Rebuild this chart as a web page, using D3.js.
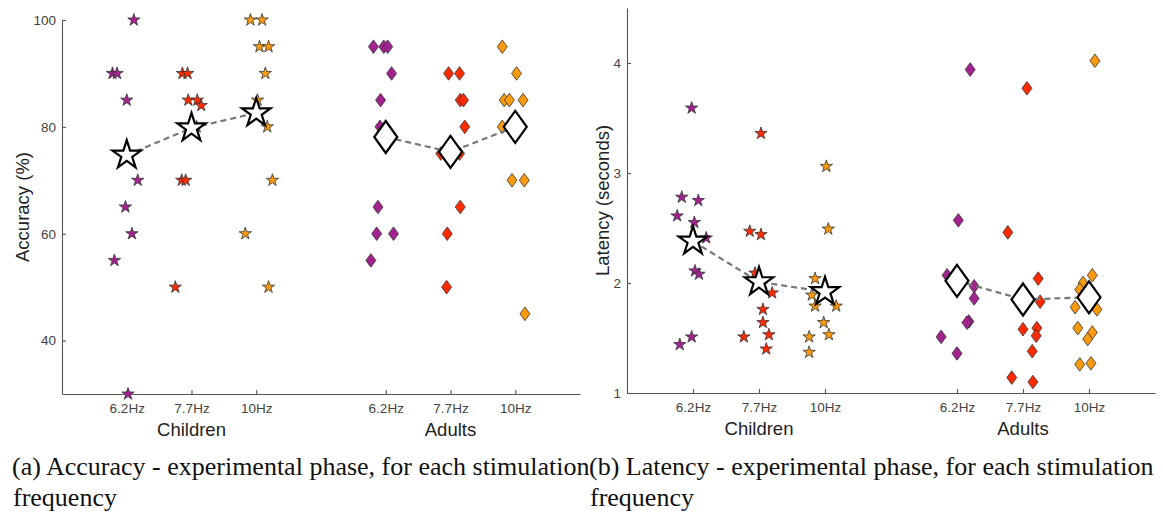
<!DOCTYPE html>
<html>
<head>
<meta charset="utf-8">
<script src="https://cdn.jsdelivr.net/npm/d3@7"></script>
<style>
  body { margin: 0; background: #fff; overflow: hidden; }
  svg { display: block; }
  .tick text { font-family: "Liberation Sans", Arial, sans-serif; }
</style>
</head>
<body>
<div id="chart"></div>
<script>
// categories
var freqLabels = ["6.2Hz", "7.7Hz", "10Hz", "6.2Hz", "7.7Hz", "10Hz"];
var freqPos = [1, 2, 3, 5, 6, 7];
var cohortLabels = ["Children", "Adults"];
var cohortPos = [2, 6];
var freqColors = ["#a2228f", "#ff2a00", "#fb9a0c"];

// accuracy (%) - each point is [value, horizontal jitter in category units]
var accChild62 = [[100, 0.11], [90, -0.22], [90, -0.15], [85, 0], [70, 0.17], [65, -0.02], [60, 0.08], [55, -0.19], [30, 0.02]];
var accChild77 = [[90, -0.14], [90, -0.06], [85, -0.05], [85, 0.09], [84, 0.15], [80, 0.08], [70, -0.15], [70, -0.09], [50, -0.25]];
var accChild10 = [[100, -0.09], [100, 0.09], [95, 0.05], [95, 0.19], [90, 0.14], [85, 0.02], [80, 0.17], [70, 0.25], [60, -0.17], [50, 0.19]];
var accAdult62 = [[95, -0.19], [95, -0.03], [95, 0.03], [90, 0.09], [85, -0.08], [80, -0.09], [65, -0.12], [60, -0.14], [60, 0.12], [55, -0.23]];
var accAdult77 = [[90, -0.03], [90, 0.14], [85, 0.15], [85, 0.2], [80, 0.22], [75, -0.15], [75, 0.14], [65, 0.15], [60, -0.05], [50, -0.06]];
var accAdult10 = [[95, -0.2], [90, 0.02], [85, -0.17], [85, -0.09], [85, 0.12], [80, -0.2], [70, -0.05], [70, 0.14], [45, 0.15]];
var accMeans = [74.7, 79.8, 82.6, 78.1, 75.3, 80.0];
var accTicks = [40, 60, 80, 100];

// latency (seconds)
var latChild62 = [[3.59, -0.02], [2.78, -0.17], [2.75, 0.08], [2.61, -0.24], [2.55, 0.02], [2.41, 0.2], [2.11, 0.03], [2.08, 0.09], [1.51, -0.02], [1.44, -0.2]];
var latChild77 = [[3.36, 0.03], [2.47, -0.14], [2.44, 0.03], [2.09, -0.06], [1.91, 0.2], [1.76, 0.06], [1.64, 0.06], [1.53, 0.15], [1.51, -0.23], [1.40, 0.11]];
var latChild10 = [[3.06, 0.02], [2.49, 0.05], [2.04, -0.15], [1.89, -0.2], [1.79, -0.15], [1.79, 0.17], [1.64, -0.02], [1.53, 0.06], [1.51, -0.24], [1.37, -0.24]];
var latAdult62 = [[3.94, 0.2], [2.57, 0.02], [2.07, -0.15], [1.97, 0.26], [1.86, 0.26], [1.65, 0.18], [1.64, 0.15], [1.51, -0.24], [1.36, 0]];
var latAdult77 = [[3.77, 0.06], [2.46, -0.23], [2.04, 0.23], [1.83, 0.26], [1.59, 0.21], [1.58, 0], [1.52, 0.2], [1.38, 0.14], [1.14, -0.17], [1.10, 0.15]];
var latAdult10 = [[4.02, 0.09], [2.07, 0.05], [2.00, -0.09], [1.94, -0.14], [1.78, -0.21], [1.76, 0.12], [1.59, -0.17], [1.55, 0.05], [1.49, -0.02], [1.27, 0.03], [1.26, -0.14]];
var latMeans = [2.38, 2.01, 1.92, 2.02, 1.85, 1.87];
var latTicks = [1, 2, 3, 4];

var W = 1163, H = 519;

var svg = d3.select("#chart").append("svg")
    .attr("width", W)
    .attr("height", H);

// marker shapes
function starPath(r) {
  return d3.symbol().type(d3.symbolStar).size(r * r / 0.8908130915292852)();
}
function diamondPath(w, h) {
  return "M0," + (-h) + "L" + w + ",0L0," + h + "L" + (-w) + ",0Z";
}

function drawPanel(cfg) {
  var x = d3.scaleLinear().domain([0, 8]).range([cfg.left, cfg.right]);
  var y = d3.scaleLinear().domain(cfg.yDomain).range([cfg.bottom, cfg.top]);

  var g = svg.append("g");

  // axes (MATLAB style, ticks pointing in)
  var xAxis = d3.axisBottom(x)
      .tickValues(freqPos)
      .tickFormat(function(d, i) { return freqLabels[i]; })
      .tickSizeInner(-4)
      .tickSizeOuter(0)
      .tickPadding(9);
  var yAxis = d3.axisLeft(y)
      .tickValues(cfg.ticks)
      .tickFormat(d3.format("d"))
      .tickSizeInner(-4)
      .tickSizeOuter(0)
      .tickPadding(6);

  var gx = g.append("g")
      .attr("transform", "translate(0," + cfg.bottom + ")")
      .call(xAxis);
  var gy = g.append("g")
      .attr("transform", "translate(" + cfg.left + ",0)")
      .call(yAxis);

  [gx, gy].forEach(function(a) {
    a.select(".domain").attr("stroke", "#555").attr("stroke-width", 1.1);
    a.selectAll(".tick line").attr("stroke", "#555").attr("stroke-width", 1.1);
    a.selectAll(".tick text").attr("fill", "#444").style("font-size", "13.5px");
  });
  gx.selectAll(".tick text").attr("dy", "0.71em");

  // cohort labels
  g.selectAll(".cohort")
      .data(cohortLabels)
    .enter().append("text")
      .attr("class", "cohort")
      .attr("x", function(d, i) { return x(cohortPos[i]); })
      .attr("y", cfg.bottom + 42)
      .attr("text-anchor", "middle")
      .style("font-family", "Liberation Sans, Arial, sans-serif")
      .style("font-size", "18.5px")
      .attr("fill", "#222")
      .text(function(d) { return d; });

  // y label
  g.append("text")
      .attr("transform", "translate(" + cfg.yLabelX + "," + ((cfg.top + cfg.bottom) / 2) + ") rotate(-90)")
      .attr("text-anchor", "middle")
      .style("font-family", "Liberation Sans, Arial, sans-serif")
      .style("font-size", "18.5px")
      .attr("fill", "#222")
      .text(cfg.yLabel);

  // individual points
  cfg.series.forEach(function(pts, gi) {
    var col = freqColors[gi % 3];
    var isChild = gi < 3;
    var path = isChild ? starPath(6.5) : diamondPath(5, 6.8);
    g.append("g").selectAll("path")
        .data(pts)
      .enter().append("path")
        .attr("d", path)
        .attr("transform", function(d) {
          return "translate(" + x(freqPos[gi] + d[1]) + "," + y(d[0]) + ")";
        })
        .attr("fill", col)
        .attr("stroke", "#333")
        .attr("stroke-width", 0.8);
  });

  // dashed mean lines per cohort
  var line = d3.line()
      .x(function(d) { return x(d.pos); })
      .y(function(d) { return y(d.val); });
  [[0, 1, 2], [3, 4, 5]].forEach(function(idx) {
    g.append("path")
        .datum(idx.map(function(i) { return {pos: freqPos[i], val: cfg.means[i]}; }))
        .attr("d", line)
        .attr("fill", "none")
        .attr("stroke", "#777")
        .attr("stroke-width", 2.2)
        .attr("stroke-dasharray", "6,4");
  });

  // mean markers
  g.append("g").selectAll("path")
      .data(cfg.means)
    .enter().append("path")
      .attr("d", function(d, i) { return i < 3 ? starPath(15) : diamondPath(11.5, 16); })
      .attr("transform", function(d, i) {
        return "translate(" + x(freqPos[i]) + "," + y(d) + ")";
      })
      .attr("fill", "#fff")
      .attr("stroke", "#000")
      .attr("stroke-width", 2.2);
}

drawPanel({
  left: 62, right: 580, top: 20, bottom: 394,
  yDomain: [30, 100], ticks: accTicks,
  yLabel: "Accuracy (%)", yLabelX: 29,
  series: [accChild62, accChild77, accChild10, accAdult62, accAdult77, accAdult10],
  means: accMeans
});

drawPanel({
  left: 627, right: 1155, top: 8, bottom: 393,
  yDomain: [1, 4.5], ticks: latTicks,
  yLabel: "Latency (seconds)", yLabelX: 609,
  series: [latChild62, latChild77, latChild10, latAdult62, latAdult77, latAdult10],
  means: latMeans
});

// captions (first line of (a) justified to the subfigure width, like LaTeX)
var captions = [
  {x: 12, width: 576, lines: ["(a) Accuracy - experimental phase, for each stimulation", "frequency"]},
  {x: 589, width: 0, lines: ["(b) Latency - experimental phase, for each stimulation", "frequency"]}
];
captions.forEach(function(c) {
  var t = svg.append("g").selectAll("text")
      .data(c.lines)
    .enter().append("text")
      .attr("x", function(d, i) { return i === 0 ? c.x : c.x + 1; })
      .attr("y", function(d, i) { return 475 + i * 31; })
      .style("font-family", "Liberation Serif, Times New Roman, serif")
      .style("font-size", "26px")
      .attr("fill", "#111")
      .text(function(d) { return d; });
  var first = t.filter(function(d, i) { return i === 0; });
  var natural = first.node().getComputedTextLength();
  var gaps = c.lines[0].split(" ").length - 1;
  first.attr("word-spacing", Math.max(0, (c.width - natural) / gaps) + "px");
});
</script>
</body>
</html>
